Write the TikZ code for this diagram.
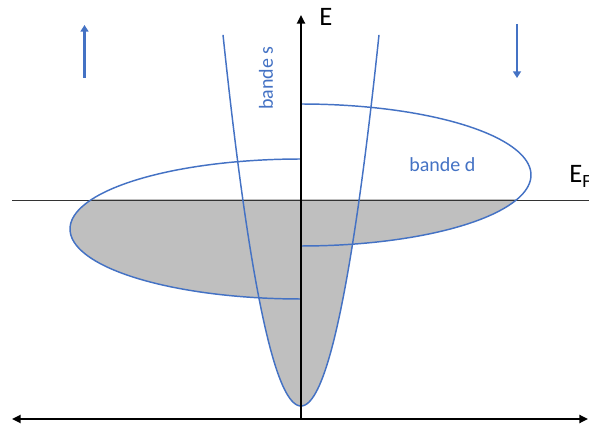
\documentclass[tikz,border=0pt]{standalone}
\usepackage{fontspec}
\setmainfont{Carlito}
\usetikzlibrary{arrows.meta}
\definecolor{bandblue}{HTML}{4472C4}
\definecolor{fillgray}{HTML}{BFBFBF}
\begin{document}
\begin{tikzpicture}[x=0.75pt,y=-0.75pt,
  axisline/.style={line width=2pt},
  axistip/.style={-{Triangle[length=6.5pt,width=6pt]}},
  bothtips/.style={{Triangle[length=6.5pt,width=6pt]}-{Triangle[length=6.5pt,width=6pt]}},
  band/.style={bandblue, line width=1.1pt},
  bandfill/.style={fill=fillgray},
  spinarrow/.style={bandblue, line width=1.9pt, -{Triangle[length=5pt,width=6pt]}},
  fermiline/.style={black!80, line width=0.7pt},
  bluelbl/.style={text=bandblue, font=\fontsize{15}{18}\selectfont, inner sep=0pt},
  biglbl/.style={font=\fontsize{20}{24}\selectfont, inner sep=0pt}]
\useasboundingbox (0,0) rectangle (589,427);

% filled states below E_F
\begin{scope}
  \clip (0,200) rectangle (589,427);
  \fill[bandfill] plot[domain=90:270,samples=90] ({301+231*cos(\x)},{229-70*sin(\x)}) -- cycle;
  \fill[bandfill] plot[domain=-90:90,samples=90] ({301+230*cos(\x)},{175-71*sin(\x)}) -- cycle;
  \fill[bandfill] plot[domain=-78:78,samples=90] ({301+\x},{406-0.061*\x*\x}) -- cycle;
\end{scope}

% Fermi level
\coordinate (fl) at (12,200);
\coordinate (fr) at (589,200);
\draw[fermiline] (fl) -- (fr);

% bands
\draw[band] plot[domain=90:270,samples=90] ({301+231*cos(\x)},{229-70*sin(\x)});
\draw[band] plot[domain=90:-90,samples=90] ({301+230*cos(\x)},{175-71*sin(\x)});
\draw[band] plot[domain=-78:78,samples=90] ({301+\x},{406-0.061*\x*\x});

% axes
\coordinate (o) at (301,419);
\coordinate (etop) at (301,15);
\coordinate (hl) at (12,419);
\coordinate (hr) at (588,419);
\draw[axisline,bothtips] (hl) -- (hr);
\draw[axisline,axistip] (o) -- (etop);

% spin arrows
\coordinate (u0) at (84.5,78);
\coordinate (u1) at (84.5,25);
\coordinate (d0) at (517,24);
\coordinate (d1) at (517,78);
\draw[spinarrow] (u0) -- (u1);
\draw[spinarrow] (d0) -- (d1);

% labels
\node[biglbl, anchor=base west] (E) at (319,26) {E};
\node[biglbl, anchor=base west] (EF) at (569,183) {E\textsubscript{F}};
\node[bluelbl, anchor=base west] (bd) at (409,172) {bande d};
\node[bluelbl, rotate=90] (bs) at (266,78) {bande s};
\end{tikzpicture}
\end{document}
